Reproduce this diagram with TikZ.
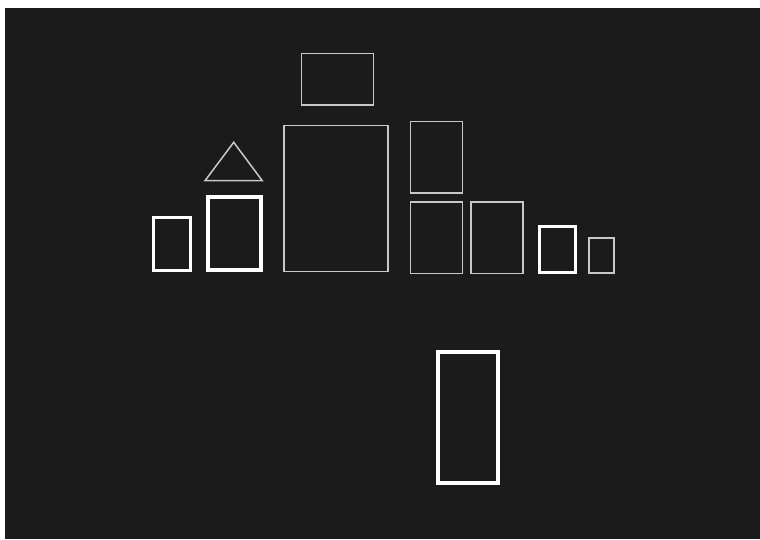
\documentclass[tikz,border=0pt]{standalone}
\definecolor{bg}{HTML}{1B1B1B}
\definecolor{thinc}{HTML}{C8C8C8}
\tikzset{
  thinbox/.style={draw=thinc, line width=1.5pt},
  midbox/.style={draw=thinc, line width=2pt},
  thickbox/.style={draw=white, line width=3pt},
  heavybox/.style={draw=white, line width=4pt}
}
\begin{document}
\begin{tikzpicture}[x=1pt,y=-1pt]
\useasboundingbox (0,0) rectangle (760,539);
\fill[white] (0,0) rectangle (760,539);
\fill[bg] (5,8) rectangle (759.5,539);
\draw[thickbox] (153.5,217) rectangle (190,270) coordinate (A);
\draw[heavybox] (208,197) rectangle (260.5,269.5) coordinate (B);
\draw[thinbox, line join=miter] (233.7,142.3) -- (262.3,180.7) -- (205,180.7) -- cycle;
\draw[thinbox] (284,125.5) rectangle (388,271.5) coordinate (C);
\draw[thinbox] (301.5,53.5) rectangle (373.3,105) coordinate (D);
\draw[thinbox] (410.5,121.5) rectangle (462.5,192.8) coordinate (E);
\draw[thinbox] (410.5,202) rectangle (462.5,273.3) coordinate (F);
\draw[thinbox] (471,202) rectangle (523,273.3) coordinate (G);
\draw[thickbox] (539.8,226.8) rectangle (575.5,272.2) coordinate (H);
\draw[midbox] (589.3,238) rectangle (613.7,273) coordinate (I);
\draw[heavybox] (437.5,351.5) rectangle (497.5,482.5) coordinate (J);
\end{tikzpicture}
\end{document}
